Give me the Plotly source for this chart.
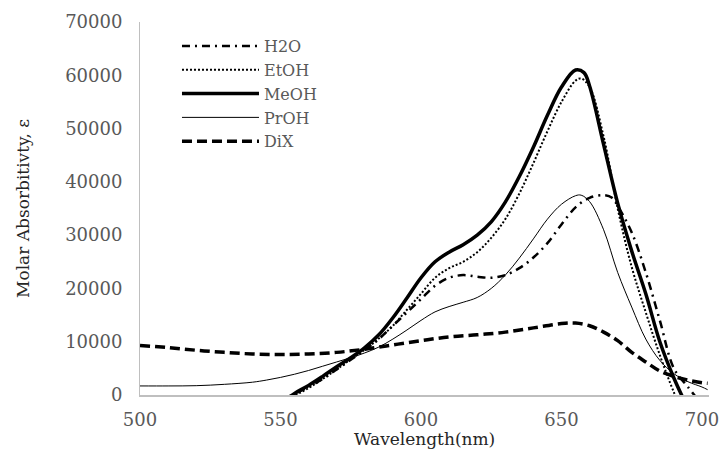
import plotly.graph_objects as go

# wavelength grids (nm) and molar absorptivity
wl_h2o = [550, 555, 560, 565, 570, 575, 580, 585, 590, 595, 600, 605, 610, 615, 620, 625,
          630, 635, 640, 645, 650, 655, 660, 665, 668, 670, 675, 680, 685, 690, 695, 698]
h2o = [-1500, 200, 1500, 3000, 4800, 6600, 8500, 10500, 13000, 15500, 18000, 20500, 22000,
       22500, 22200, 22000, 22500, 23800, 25800, 28500, 32000, 35200, 37000, 37500, 37000,
       35500, 30500, 23000, 14000, 5000, 1500, -500]

wl_etoh = [550, 555, 560, 565, 570, 575, 580, 585, 590, 595, 600, 605, 610, 615, 620, 625,
           630, 635, 640, 645, 650, 655, 657, 660, 665, 670, 675, 680, 685, 690, 693]
etoh = [-2500, -200, 1300, 3000, 4800, 6700, 8500, 10600, 13000, 16000, 19000, 22000, 23800,
        25000, 26800, 29500, 33000, 37800, 43500, 49500, 55000, 59000, 59400, 57800, 48500,
        35000, 24000, 15500, 7500, 500, -3000]

wl_meoh = [550, 555, 560, 565, 570, 575, 580, 585, 590, 595, 600, 605, 610, 615, 620, 625,
           630, 635, 640, 645, 650, 655, 658, 660, 665, 670, 675, 680, 685, 690, 695]
meoh = [-1500, 300, 1800, 3500, 5300, 7000, 8900, 11300, 14500, 18200, 22000, 25000, 26800,
        28200, 30000, 32500, 36200, 41000, 46500, 52500, 57800, 61000, 60500, 58000, 47000,
        36000, 27000, 19000, 10000, 3200, -2500]

wl_proh = [500, 510, 520, 530, 540, 545, 550, 555, 560, 565, 570, 575, 580, 585, 590, 595,
           600, 605, 610, 615, 620, 625, 630, 635, 640, 645, 650, 655, 657, 660, 665, 670,
           675, 680, 685, 690, 695, 700, 702]
proh = [1700, 1700, 1750, 2000, 2400, 2800, 3300, 3900, 4600, 5400, 6200, 7000, 7900, 9000,
        10500, 12200, 14000, 15600, 16600, 17400, 18300, 20000, 22500, 25700, 29300, 33000,
        35800, 37400, 37500, 36300, 31000, 23000, 16500, 10500, 6500, 4000, 2500, 1500, 1000]

wl_dix = [500, 510, 520, 530, 540, 550, 560, 570, 580, 590, 600, 610, 620, 630, 640, 650,
          655, 660, 665, 670, 675, 680, 685, 690, 695, 700, 702]
dix = [9300, 8900, 8400, 8000, 7700, 7600, 7700, 8000, 8600, 9400, 10200, 10900, 11300, 11800,
       12600, 13400, 13500, 13000, 11800, 10200, 8000, 6200, 4500, 3500, 2800, 2300, 2200]

x_ticks = [500, 550, 600, 650, 700]
y_ticks = [0, 10000, 20000, 30000, 40000, 50000, 60000, 70000]

FONT = "DejaVu Serif"
GREY = "#595959"

fig = go.Figure()
fig.add_trace(go.Scatter(x=wl_h2o, y=h2o, name="H2O", mode="lines", line_shape="spline",
                         line=dict(color="black", width=2.5, dash="8px,5px,2px,5px")))
fig.add_trace(go.Scatter(x=wl_etoh, y=etoh, name="EtOH", mode="lines", line_shape="spline",
                         line=dict(color="black", width=2, dash="2px,2px")))
fig.add_trace(go.Scatter(x=wl_meoh, y=meoh, name="MeOH", mode="lines", line_shape="spline",
                         line=dict(color="black", width=3.5)))
fig.add_trace(go.Scatter(x=wl_proh, y=proh, name="PrOH", mode="lines", line_shape="spline",
                         line=dict(color="black", width=1)))
fig.add_trace(go.Scatter(x=wl_dix, y=dix, name="DiX", mode="lines", line_shape="spline",
                         line=dict(color="black", width=3.5, dash="10px,5px")))

# the page body keeps an 8px margin, so the figure is 8px smaller and shifted
fig.update_layout(
    width=719, height=444,
    margin=dict(l=132, r=18, t=14, b=57),
    plot_bgcolor="white", paper_bgcolor="white",
    font=dict(family=FONT, size=16, color=GREY),
    showlegend=True,
    legend=dict(x=0.065, y=0.981, xanchor="left", yanchor="top",
                bgcolor="rgba(0,0,0,0)", font=dict(family=FONT, size=16, color=GREY),
                itemwidth=77),
)
fig.add_annotation(text="Wavelength(nm)", xref="paper", yref="paper", x=0.5, y=-0.119,
                   xanchor="center", yanchor="middle", showarrow=False,
                   font=dict(family=FONT, size=17, color="#262626"))
fig.update_xaxes(
    range=[500, 702.5], tickvals=x_ticks, showgrid=False, zeroline=False, automargin=False,
    showline=True, linecolor="#bfbfbf", linewidth=1.5, ticks="",
    ticklabelstandoff=8, tickfont=dict(family=FONT, size=18, color=GREY),
)
fig.update_yaxes(
    range=[0, 70000], tickvals=y_ticks, tickformat="d", showgrid=False, zeroline=False,
    automargin=False, showline=True, linecolor="#bfbfbf", linewidth=1, ticks="",
    ticklabelstandoff=13, tickfont=dict(family=FONT, size=18, color=GREY),
    title=dict(text="Molar Absorbitivty, ε", font=dict(family=FONT, size=17, color="#262626"), standoff=31),
)

fig.write_html("out.html")
